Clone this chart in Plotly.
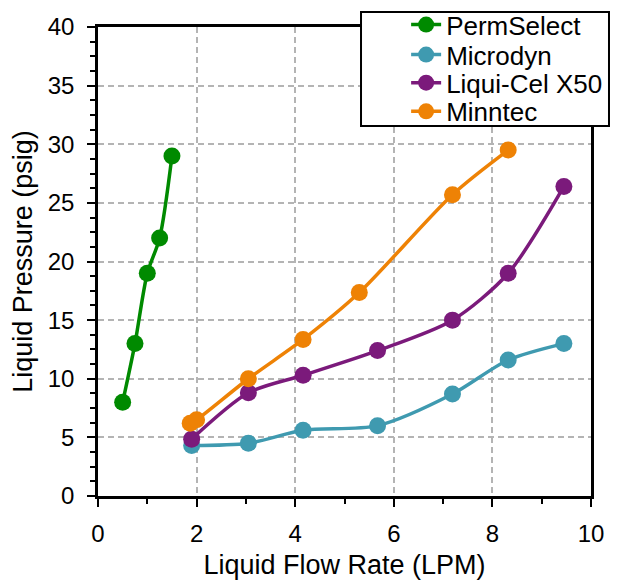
import plotly.graph_objects as go

# Data
perm_x = [0.5, 0.75, 1.0, 1.25, 1.5]
perm_y = [8.0, 13.0, 19.0, 22.0, 29.0]

micro_x = [1.9, 3.05, 4.16, 5.67, 7.19, 8.32, 9.45]
micro_y = [4.3, 4.5, 5.6, 6.0, 8.7, 11.6, 13.0]

liqui_x = [1.9, 3.05, 4.16, 5.67, 7.19, 8.32, 9.45]
liqui_y = [4.85, 8.8, 10.3, 12.4, 15.0, 19.0, 26.4]

minn_x = [1.87, 2.0, 3.05, 4.16, 5.3, 7.19, 8.32]
minn_y = [6.2, 6.5, 10.0, 13.35, 17.35, 25.7, 29.5]

series_names = ["PermSelect", "Microdyn", "Liqui-Cel X50", "Minntec"]
series_colors = ["#008a00", "#3f9ab0", "#7b1a7b", "#ee8205"]
xs = [perm_x, micro_x, liqui_x, minn_x]
ys = [perm_y, micro_y, liqui_y, minn_y]
legend_ids = ["legend", "legend2", "legend3", "legend4"]
legend_rows_y = [1.005, 0.941, 0.881, 0.820]

FONT = "Liberation Sans, Arial, sans-serif"

fig = go.Figure()
for name, color, x, y, lg in zip(series_names, series_colors, xs, ys, legend_ids):
    fig.add_trace(go.Scatter(
        x=x, y=y, name=name, mode="lines+markers",
        line=dict(color=color, width=3.5, shape="spline", smoothing=0.8),
        marker=dict(color=color, size=17),
        legend=lg,
    ))

axis_common = dict(
    showline=True, linecolor="black", linewidth=2.5, mirror=True,
    ticks="outside", ticklen=8, tickwidth=2, tickcolor="black",
    showgrid=True, gridcolor="#b4b4b4", gridwidth=1.5, griddash="6px,4px",
    zeroline=False, automargin=False,
    tickfont=dict(family=FONT, size=24, color="black"),
)

fig.update_xaxes(
    **axis_common,
    range=[0, 10], dtick=2, tick0=0,
    minor=dict(dtick=1, tick0=0, ticks="outside", ticklen=5, tickwidth=2, tickcolor="black", showgrid=False),
    title=dict(text="Liquid Flow Rate (LPM)", font=dict(family=FONT, size=27, color="black"), standoff=12),
    ticklabelstandoff=6,
)
fig.update_yaxes(
    **axis_common,
    range=[0, 40], dtick=5, tick0=0,
    minor=dict(dtick=1.25, tick0=0, ticks="outside", ticklen=5, tickwidth=2, tickcolor="black", showgrid=False),
    title=dict(text="Liquid Pressure (psig)", font=dict(family=FONT, size=27, color="black"), standoff=8),
    ticklabelstandoff=8,
)

legend_style = dict(
    x=0.625, xanchor="left", yanchor="middle",
    bgcolor="rgba(0,0,0,0)", borderwidth=0,
    font=dict(family=FONT, size=26, color="black"),
    itemwidth=30,
)
layout_legends = {}
for lg, ly in zip(legend_ids, legend_rows_y):
    layout_legends[lg] = dict(legend_style, y=ly)

fig.update_layout(
    width=618, height=580,
    margin=dict(l=98, r=27, t=27, b=84, autoexpand=False),
    paper_bgcolor="white", plot_bgcolor="white",
    font=dict(family=FONT, color="black"),
    showlegend=True,
    shapes=[dict(
        type="rect", xref="paper", yref="paper",
        x0=0.5335, x1=1.0365, y0=0.789, y1=1.032,
        line=dict(color="black", width=2), fillcolor="white", layer="above",
    )],
    **layout_legends,
)

fig.write_html("out.html")
